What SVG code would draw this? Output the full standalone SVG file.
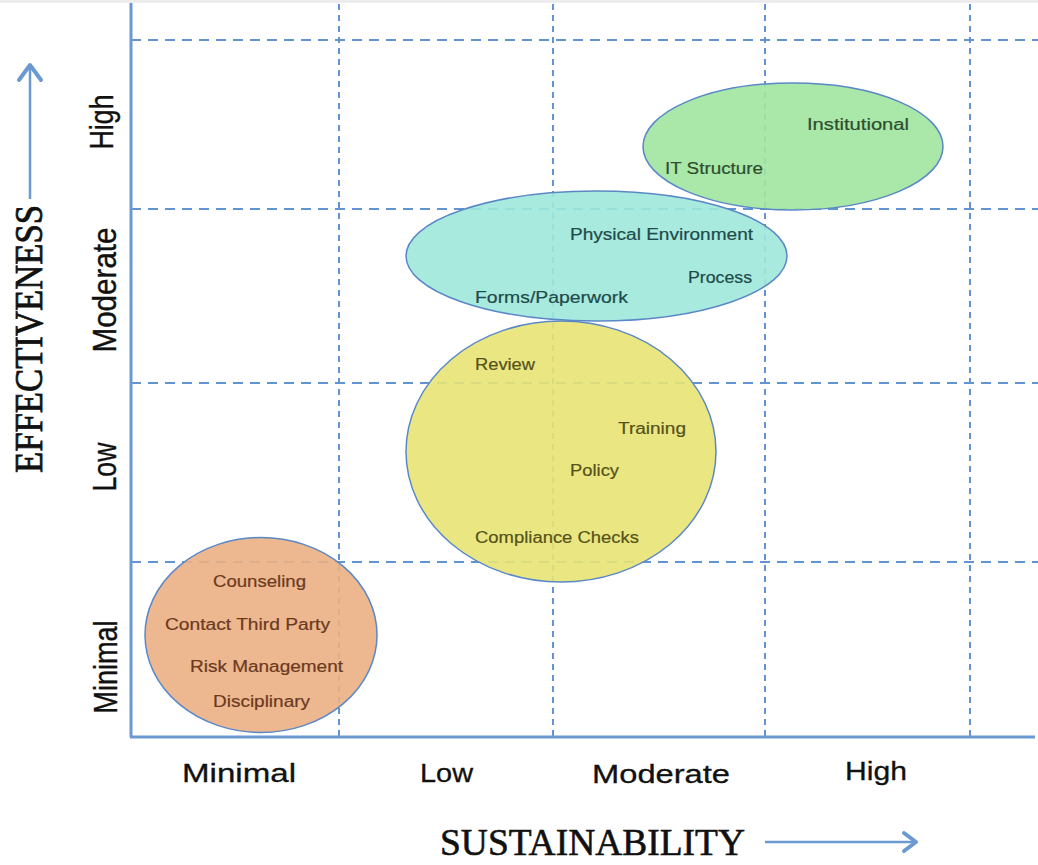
<svg xmlns="http://www.w3.org/2000/svg" width="1038" height="865" viewBox="0 0 1038 865">
<style>
.axis{stroke:#6b9ad3;stroke-width:3;fill:none}
.gh{stroke:#6294d3;stroke-width:2;stroke-dasharray:10 7;fill:none}
.gv{stroke:#6294d3;stroke-width:2;stroke-dasharray:6 5;fill:none}
.arrow{stroke:#6b9ad3;stroke-width:2.5;fill:none}
.head{stroke:#6b9ad3;stroke-width:4;fill:none;stroke-linecap:round;stroke-linejoin:round}
.ell{stroke:#5a88c6;stroke-width:1.5;fill-opacity:0.9}
.lab{font-family:"Liberation Sans",Arial,sans-serif;font-size:26px;fill:#111;stroke:#111;stroke-width:0.3}
.title{font-family:"Liberation Serif","Times New Roman",serif;fill:#111;stroke:#111;stroke-width:0.6}
.t{font-family:"Liberation Sans",Arial,sans-serif;font-size:16px;stroke-width:0.2}
.to{fill:#6b3a1e;stroke:#6b3a1e}.tg{fill:#2e4d2e;stroke:#2e4d2e}.tt{fill:#1e4a4a;stroke:#1e4a4a}.ty{fill:#56521a;stroke:#56521a}
</style>
<rect x="0" y="0" width="1038" height="865" fill="#ffffff"/>
<rect x="0" y="0" width="1038" height="3" fill="#ededed"/>
<g id="grid">
<line class="gh" x1="131" y1="40" x2="1038" y2="40"/>
<line class="gh" x1="131" y1="209" x2="1038" y2="209"/>
<line class="gh" x1="131" y1="383" x2="1038" y2="383"/>
<line class="gh" x1="131" y1="562" x2="1038" y2="562"/>
<line class="gv" x1="339" y1="4" x2="339" y2="736"/>
<line class="gv" x1="553" y1="4" x2="553" y2="736"/>
<line class="gv" x1="765" y1="4" x2="765" y2="736"/>
<line class="gv" x1="970" y1="4" x2="970" y2="736"/>
</g>
<g id="axes">
<line class="axis" x1="131" y1="3" x2="131" y2="737"/>
<line class="axis" x1="130" y1="737" x2="1035" y2="737"/>
</g>
<g id="connectors">
<line class="arrow" x1="30" y1="199" x2="30" y2="66"/>
<polyline class="head" points="19,80 30,65 41,80"/>
<line class="arrow" x1="765" y1="842" x2="915" y2="842"/>
<polyline class="head" points="904,833 916,842 904,851"/>
</g>
<g id="node-minimal">
<ellipse class="ell" cx="261" cy="635" rx="116" ry="97.5" fill="#ebb084"/>
<text class="t to" x="213" y="587" textLength="93" lengthAdjust="spacingAndGlyphs">Counseling</text>
<text class="t to" x="165" y="630" textLength="165" lengthAdjust="spacingAndGlyphs">Contact Third Party</text>
<text class="t to" x="190" y="672" textLength="153" lengthAdjust="spacingAndGlyphs">Risk Management</text>
<text class="t to" x="213" y="707" textLength="97" lengthAdjust="spacingAndGlyphs">Disciplinary</text>
</g>
<g id="node-low">
<ellipse class="ell" cx="561" cy="451.5" rx="155" ry="130.5" fill="#e8e475"/>
<text class="t ty" x="475" y="370" textLength="60" lengthAdjust="spacingAndGlyphs">Review</text>
<text class="t ty" x="618" y="434" textLength="68" lengthAdjust="spacingAndGlyphs">Training</text>
<text class="t ty" x="570" y="476" textLength="49" lengthAdjust="spacingAndGlyphs">Policy</text>
<text class="t ty" x="475" y="543" textLength="164" lengthAdjust="spacingAndGlyphs">Compliance Checks</text>
</g>
<g id="node-moderate">
<ellipse class="ell" cx="596.5" cy="256" rx="190.5" ry="65" fill="#9ee8da"/>
<text class="t tt" x="570" y="240" textLength="183" lengthAdjust="spacingAndGlyphs">Physical Environment</text>
<text class="t tt" x="688" y="283" textLength="64" lengthAdjust="spacingAndGlyphs">Process</text>
<text class="t tt" x="475" y="303" textLength="153" lengthAdjust="spacingAndGlyphs">Forms/Paperwork</text>
</g>
<g id="node-high">
<ellipse class="ell" cx="793" cy="146.5" rx="150" ry="63.5" fill="#a0e6a0"/>
<text class="t tg" x="807" y="130" textLength="102" lengthAdjust="spacingAndGlyphs">Institutional</text>
<text class="t tg" x="665" y="174" textLength="98" lengthAdjust="spacingAndGlyphs">IT Structure</text>
</g>
<g id="y-labels">
<text class="lab" text-anchor="middle" transform="translate(113,122) scale(1.25,1) rotate(-90)" textLength="55" lengthAdjust="spacingAndGlyphs">High</text>
<text class="lab" text-anchor="middle" transform="translate(116,290) scale(1.25,1) rotate(-90)" textLength="125" lengthAdjust="spacingAndGlyphs">Moderate</text>
<text class="lab" text-anchor="middle" transform="translate(116,467) scale(1.25,1) rotate(-90)" textLength="49" lengthAdjust="spacingAndGlyphs">Low</text>
<text class="lab" text-anchor="middle" transform="translate(117,667) scale(1.25,1) rotate(-90)" textLength="93" lengthAdjust="spacingAndGlyphs">Minimal</text>
<text class="title" font-size="30" text-anchor="middle" transform="translate(42,339) scale(1.3,1) rotate(-90)" textLength="268" lengthAdjust="spacingAndGlyphs">EFFECTIVENESS</text>
</g>
<g id="x-labels">
<text class="lab" x="182" y="782" textLength="114" lengthAdjust="spacingAndGlyphs">Minimal</text>
<text class="lab" x="420" y="782" textLength="53" lengthAdjust="spacingAndGlyphs">Low</text>
<text class="lab" x="592" y="783" textLength="138" lengthAdjust="spacingAndGlyphs">Moderate</text>
<text class="lab" x="845" y="780" textLength="62" lengthAdjust="spacingAndGlyphs">High</text>
<text class="title" font-size="38" x="440" y="855" textLength="305" lengthAdjust="spacingAndGlyphs">SUSTAINABILITY</text>
</g>
</svg>
